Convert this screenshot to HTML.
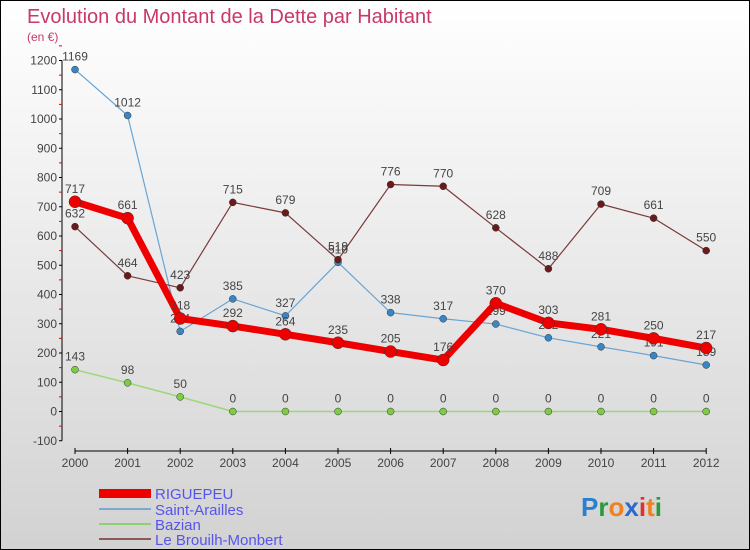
<!DOCTYPE html>
<html><head><meta charset="utf-8"><style>
body{margin:0}
#c{position:relative;width:748px;height:548px;border:1px solid #000;background:linear-gradient(#fff,#f2f2f2 30%,#d2d2d2);font-family:"Liberation Sans",sans-serif;overflow:hidden}
text{font-family:"Liberation Sans",sans-serif}
</style></head><body>
<div id="c">
<svg id="s" width="748" height="548">
<text x="26" y="22" font-size="20" fill="#c8386a">Evolution du Montant de la Dette par Habitant</text>
<text x="26" y="40" font-size="12" fill="#c8386a">(en €)</text>
<g id="axes"></g><g id="series"></g>
<g>
<rect x="98" y="488" width="52" height="9" fill="#e00"/>
<text x="154" y="498" font-size="15" fill="#5555ee">RIGUEPEU</text>
<rect x="98" y="507" width="52" height="2" fill="#7aaad0"/>
<text x="154" y="514" font-size="15" fill="#5555ee">Saint-Arailles</text>
<rect x="98" y="522" width="52" height="2" fill="#90d070"/>
<text x="154" y="529" font-size="15" fill="#5555ee">Bazian</text>
<rect x="98" y="537" width="52" height="2" fill="#8a5a5a"/>
<text x="154" y="544" font-size="15" fill="#5555ee">Le Brouilh-Monbert</text>
</g>
<text x="580" y="515" font-size="26" font-weight="bold"><tspan fill="#2a7fd0">P</tspan><tspan fill="#2a9a3a">r</tspan><tspan fill="#f08020">o</tspan><tspan fill="#2a6ad0">x</tspan><tspan fill="#e03030">i</tspan><tspan fill="#f08020">t</tspan><tspan fill="#2a9a3a">i</tspan></text>
</svg></div>
<script>
const years=[2000,2001,2002,2003,2004,2005,2006,2007,2008,2009,2010,2011,2012];
const yTicks=[-100,0,100,200,300,400,500,600,700,800,900,1000,1100,1200];
const riguepeu=[717,661,318,292,264,235,205,176,370,303,281,250,217];
const saintArailles=[1169,1012,274,385,327,510,338,317,299,252,221,191,159];
const bazian=[143,98,50,0,0,0,0,0,0,0,0,0,0];
const brouilh=[632,464,423,715,679,519,776,770,628,488,709,661,550];
const NS="http://www.w3.org/2000/svg";
function X(i){return 74+i*52.6;}
function Y(v){return 410.5-v*0.2925;}
function mk(t,a,p){const e=document.createElementNS(NS,t);for(const k in a)e.setAttribute(k,a[k]);p.appendChild(e);return e;}
const ax=document.getElementById('axes'),sg=document.getElementById('series');
let l=mk('line',{x1:61,y1:Y(1200),x2:61,y2:Y(-100),stroke:'#000'},ax);


yTicks.forEach(v=>{
 mk('line',{x1:58,x2:61,y1:Y(v),y2:Y(v),stroke:'#000'},ax);
 mk('line',{x1:58,x2:61,y1:Y(v+50),y2:Y(v+50),stroke:'#e00'},ax);
 const t=mk('text',{x:56,y:Y(v)+4,'font-size':12,fill:'#444','text-anchor':'end'},ax);t.textContent=v;
 
 
});
l=mk('line',{x1:X(0),y1:450,x2:X(12),y2:450,stroke:'#000'},ax);


years.forEach((y,i)=>{
 mk('line',{x1:X(i),x2:X(i),y1:447,y2:453,stroke:'#000'},ax);
 const t=mk('text',{x:X(i),y:466,'font-size':12,fill:'#444','text-anchor':'middle'},ax);t.textContent=y;
 
 
});
function draw(vals,name,col,w,dot,r){
 const g=mk('g',{},sg);
 
 
 mk('polyline',{points:vals.map((v,i)=>X(i)+','+Y(v)).join(' '),fill:'none',stroke:col,'stroke-width':w,'stroke-linejoin':'round'},g);
 vals.forEach((v,i)=>{
  const c=mk('circle',{cx:X(i),cy:Y(v),r:r,fill:dot,stroke:'#333','stroke-width':0.5},g);
  
  
  const t=mk('text',{x:X(i),y:Y(v)-9,'font-size':12,fill:'#444','text-anchor':'middle'},g);t.textContent=v;
  
  
 });
}
draw(bazian,'bazian','#9ad878',1.5,'#7ccc44',3.5);
draw(saintArailles,'saint-arailles','#6aa4d4',1.2,'#3a86c4',3.5);
draw(brouilh,'le-brouilh-monbert','#7a3a3a',1.2,'#6a1a1a',3.5);
draw(riguepeu,'riguepeu','#ee0000',7,'#ee0000',6);
</script>
</body></html>
